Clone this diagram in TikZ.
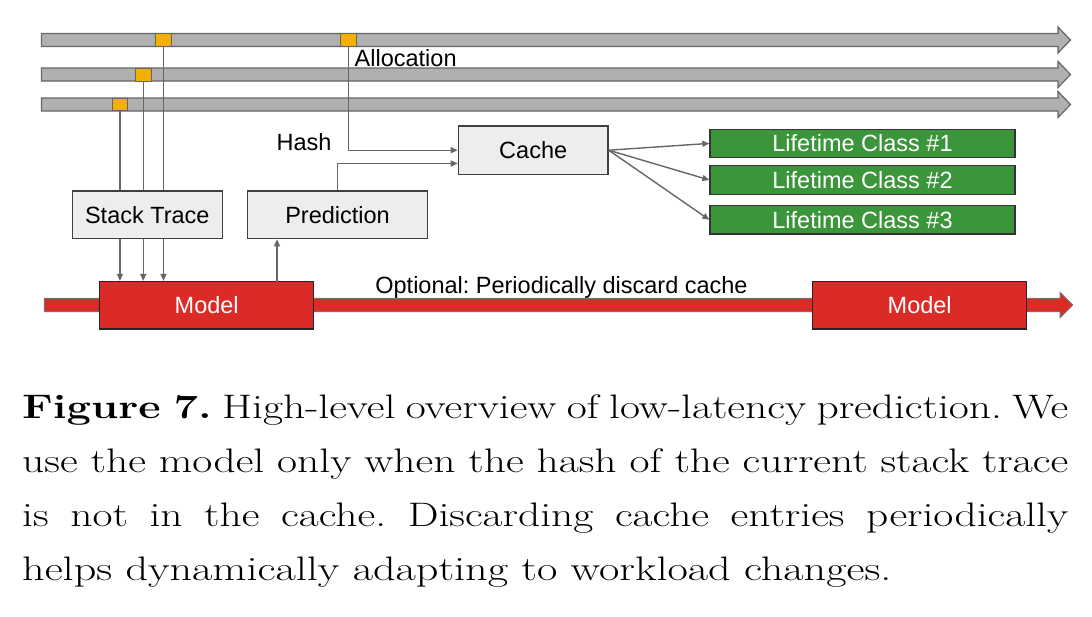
\documentclass[tikz,border=0pt]{standalone}
\usepackage{fontspec}
\newfontfamily\sansf{Liberation Sans}
\usetikzlibrary{arrows.meta}
\definecolor{barg}{HTML}{B0B0B0}
\definecolor{bord}{HTML}{666666}
\definecolor{orng}{HTML}{F4B000}
\definecolor{boxg}{HTML}{EDEDED}
\definecolor{grn}{HTML}{3B963B}
\definecolor{rd}{HTML}{DC2B27}
\definecolor{ln}{HTML}{666666}
\frenchspacing
\newcommand{\capline}[1]{\scalebox{1.28}[1]{\makebox[817.2pt][s]{#1}}}
\begin{document}
\begin{tikzpicture}[x=1pt,y=-1pt,
  lbl/.style={font=\sansf\fontsize{23.5}{28}\selectfont, inner sep=0pt},
  graybox/.style={lbl, draw=black!75, fill=boxg, line width=1.3pt, minimum height=47.7pt},
  greenbox/.style={lbl, text=white, draw=black!80, fill=grn, line width=1.3pt, minimum width=305pt, minimum height=28.5pt},
  modelbox/.style={lbl, text=white, draw=black!85, fill=rd, line width=1.3pt, minimum width=214pt, minimum height=47.5pt},
  tick/.style={draw=bord, fill=orng, line width=1pt, minimum width=15.6pt, minimum height=12.7pt, inner sep=0pt},
  conn/.style={draw=ln, line width=1.4pt},
  arr/.style={conn, -{Triangle[length=7pt,width=6pt]}},
  capf/.style={font=\fontsize{34}{40}\selectfont, inner sep=0pt, anchor=base west}
]
\useasboundingbox (0,0) rectangle (1092,616);
% gray timelines
\foreach \yy in {40,74.5,104.5}{
  \draw[draw=bord, fill=barg, line width=1.2pt]
    (41.5,\yy-6.5) -- (1058,\yy-6.5) -- (1058,\yy-13) -- (1070.5,\yy) -- (1058,\yy+13)
    -- (1058,\yy+6.5) -- (41.5,\yy+6.5) -- cycle;
}
% red timeline
\draw[draw=black!55, fill=rd, line width=1pt]
  (44.3,298.3) -- (1060,298.3) -- (1060,292.3) -- (1072.7,305) -- (1060,317.7)
  -- (1060,311.7) -- (44.3,311.7) -- cycle;
% ticks
\node[tick] (t1) at (163.5,40) {};
\node[tick] (t1b) at (348.3,40) {};
\node[tick] (t2) at (143.2,74.7) {};
\node[tick] (t3) at (119.9,104.5) {};
% boxes
\node[graybox, minimum width=150pt] (st) at (147.3,214.8) {Stack Trace};
\node[graybox, minimum width=179.6pt] (pr) at (337.5,214.8) {Prediction};
\node[graybox, minimum width=149.7pt, minimum height=48.3pt] (ch) at (533.2,150.2) {Cache};
\node[greenbox] (g1) at (862.5,143.4) {Lifetime Class \#1};
\node[greenbox] (g2) at (862.5,180) {Lifetime Class \#2};
\node[greenbox] (g3) at (862.5,219.8) {Lifetime Class \#3};
\node[modelbox] (m1) at (206.7,305.3) {Model};
\node[modelbox] (m2) at (919.7,305.2) {Model};
% labels
\node[lbl, anchor=west] (alloc) at (354.5,58) {Allocation};
\node[lbl] (hash) at (304,142) {Hash};
\node[lbl, anchor=base] (opt) at (561.5,293) {Optional: Periodically discard cache};
% connectors
\foreach \t in {t1,t2,t3}{
  \draw[conn] (\t.south) -- (\t.south |- st.north);
  \draw[arr] (\t.south |- st.south) -- (\t.south |- m1.north);
}
\coordinate (mp) at (277,281.7);
\draw[arr] (mp) -- (mp |- pr.south);
\draw[arr] (pr.north) |- ([yshift=-13.3pt]ch.west);
\draw[arr] (t1b.south) |- (ch.west);
\draw[arr] (ch.east) -- (g1.west);
\draw[arr] (ch.east) -- (g2.west);
\draw[arr] (ch.east) -- (g3.west);
% caption
\node[capf] (c1) at (22,418) {\capline{\textbf{Figure 7.} High-level overview of low-latency prediction. We}};
\node[capf] (c2) at (22,472) {\capline{use the model only when the hash of the current stack trace}};
\node[capf] (c3) at (22,526) {\capline{is not in the cache. Discarding cache entries periodically}};
\node[capf] (c4) at (22,580) {\scalebox{1.3}[1]{helps dynamically adapting to workload changes.}};
\end{tikzpicture}
\end{document}
